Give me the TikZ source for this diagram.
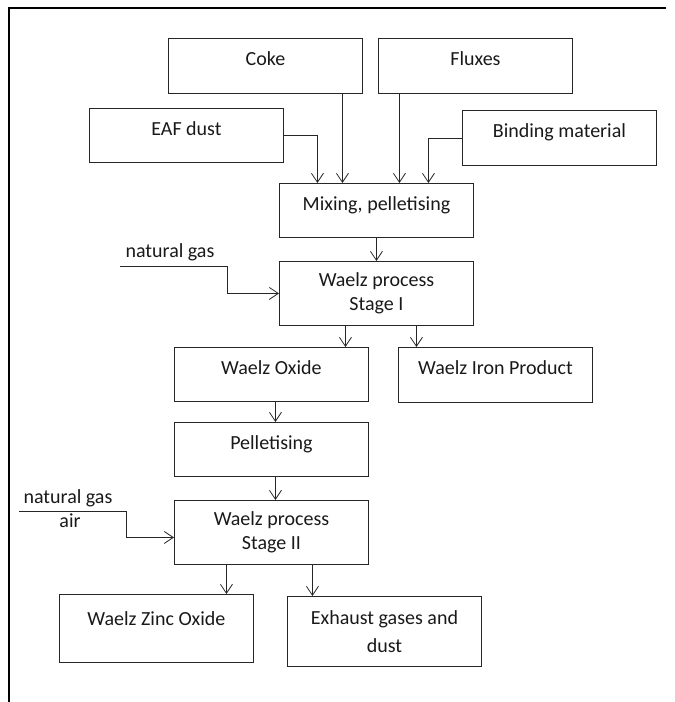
\documentclass[tikz,border=0pt]{standalone}
\usepackage{fontspec}
\setmainfont{Carlito}
\usetikzlibrary{arrows.meta, positioning}

\begin{document}
\begin{tikzpicture}[x=1pt, y=-1pt,
  >={Straight Barb[length=9pt, width=12pt]},
  box/.style={draw=black!85, line width=0.9pt, anchor=north west, inner sep=0pt,
    minimum width=194pt, font=\fontsize{20}{24}\selectfont, text=black!90},
  oneline/.style={box, text height=27pt, text depth=#1},
  twoline/.style={box, align=center, minimum height=#1},
  flow/.style={->, line width=0.8pt, draw=black!85},
  feed/.style={font=\fontsize{20}{24}\selectfont, anchor=base, inner sep=0pt, text=black!90}]
  \useasboundingbox (0,0) rectangle (675,702);

  % === outer frame (left and top only) ===
  \draw[line width=2pt] (9,702) -- (9,8) -- (666,8);

  % === raw materials ===
  \node[oneline=28pt] (coke) at (168,38) {Coke};
  \node[oneline=28pt] (flux) at (378,38) {Fluxes};
  \node[oneline=27pt] (eaf) at (89,108) {EAF dust};
  \node[oneline=28pt] (bind) at (462,110) {Binding material};

  % === process chain ===
  \node[oneline=27pt] (mix) at (279,183) {Mixing, pelletising};
  \node[twoline=64pt] (st1) at (279,261) {Waelz process\\Stage I};
  \node[oneline=27pt] (oxide) at (174,347) {Waelz Oxide};
  \node[oneline=28pt] (iron) at (398,347) {Waelz Iron Product};
  \node[oneline=27pt] (pell) at (174,422) {Pelletising};
  \node[twoline=64pt] (st2) at (174,500) {Waelz process\\Stage II};
  \node[oneline=37pt, text height=31pt] (zinc) at (59,594) {Waelz Zinc Oxide};
  \node[twoline=70pt] (exh) at (287,596) {Exhaust gases and\\[4pt]dust};

  % === feeds into mixing ===
  \draw[flow] ([xshift=77pt]coke.south) -- ([xshift=77pt]coke.south |- mix.north);
  \draw[flow] ([xshift=-76pt]flux.south) -- ([xshift=-76pt]flux.south |- mix.north);
  \draw[flow] (eaf.east) -| ([xshift=-59pt]mix.north);
  \draw[flow] (bind.west) -| ([xshift=52pt]mix.north);

  % === main flow ===
  \draw[flow] (mix.south) -- (st1.north);
  \draw[flow] ([xshift=-31pt]st1.south) -- ([xshift=-31pt]st1.south |- oxide.north);
  \draw[flow] ([xshift=40pt]st1.south) -- ([xshift=40pt]st1.south |- iron.north);
  \draw[flow] ([xshift=4pt]oxide.south) -- ([xshift=4pt]oxide.south |- pell.north);
  \draw[flow] ([xshift=4pt]pell.south) -- ([xshift=4pt]pell.south |- st2.north);
  \draw[flow] ([xshift=-45pt]st2.south) -- ([xshift=-45pt]st2.south |- zinc.north);
  \draw[flow] ([xshift=41pt]st2.south) -- ([xshift=41pt]st2.south |- exh.north);

  % === gas inlets ===
  \coordinate (gasA) at (120,266);
  \coordinate (gasAbend) at (227,266);
  \draw[flow] (gasA) -- (gasAbend) |- (st1.west);
  \node[feed] (gasAtxt) at (170,257) {natural gas};

  \coordinate (gasB) at (19,511);
  \coordinate (gasBbend) at (126,511);
  \draw[flow] (gasB) -- (gasBbend) |- ([yshift=-5pt]st2.west);
  \node[feed] (gasBtxt) at (68,503) {natural gas};
  \node[feed] (airtxt) at (70,527) {air};
\end{tikzpicture}
\end{document}
